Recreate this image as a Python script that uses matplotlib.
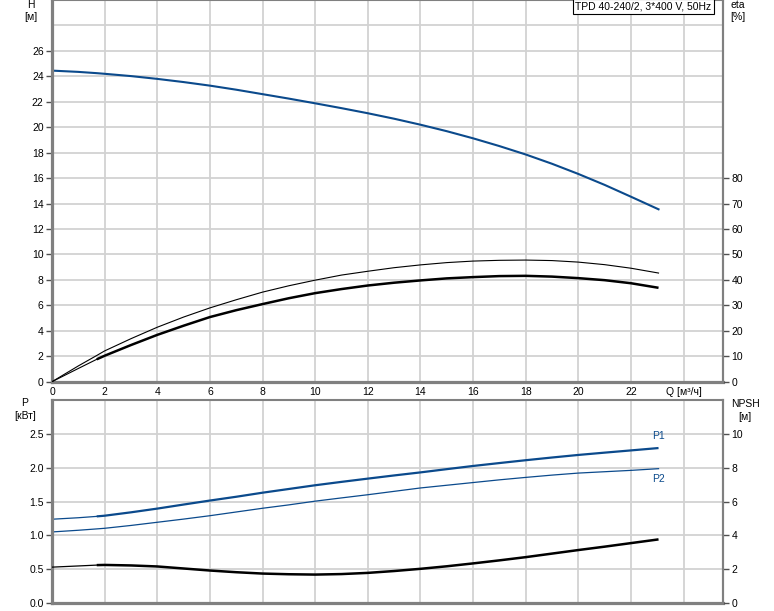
import matplotlib.pyplot as plt

plt.rcParams['font.family'] = ['Liberation Sans', 'DejaVu Sans']
plt.rcParams['font.size'] = 7.5

# flow rate, m3/h (1.7 is where the operating range starts)
q = [0, 1, 1.7, 2, 3, 4, 5, 6, 7, 8, 9, 10, 11, 12, 13, 14, 15, 16, 17, 18, 19, 20, 21, 22, 23.05]
head = [24.45, 24.35, 24.25, 24.2, 24.02, 23.8, 23.55, 23.27, 22.95, 22.6, 22.25, 21.88, 21.5, 21.1,
        20.67, 20.2, 19.69, 19.13, 18.52, 17.86, 17.13, 16.33, 15.47, 14.54, 13.55]
eta_pump = [0, 6.2, 10.3, 12.1, 16.9, 21.4, 25.4, 29, 32.2, 35.2, 37.7, 39.9, 41.9, 43.4,
            44.8, 45.9, 46.8, 47.4, 47.7, 47.8, 47.6, 47.0, 46.0, 44.6, 42.7]
eta_total = [0, 5.2, 8.8, 10.2, 14.4, 18.4, 22, 25.4, 28.1, 30.5, 32.8, 34.8, 36.4, 37.8,
             38.9, 39.8, 40.6, 41.1, 41.5, 41.6, 41.3, 40.7, 39.9, 38.7, 36.9]
p1 = [1.238, 1.26, 1.28, 1.29, 1.34, 1.395, 1.455, 1.514, 1.57, 1.63, 1.685, 1.74, 1.79, 1.838,
      1.885, 1.93, 1.978, 2.025, 2.068, 2.11, 2.15, 2.188, 2.222, 2.255, 2.29]
p2 = [1.05, 1.075, 1.095, 1.104, 1.146, 1.193, 1.24, 1.29, 1.345, 1.40, 1.45, 1.505, 1.553, 1.60,
      1.65, 1.70, 1.74, 1.78, 1.82, 1.856, 1.89, 1.92, 1.94, 1.96, 1.985]
npsh = [2.12, 2.19, 2.24, 2.25, 2.22, 2.16, 2.04, 1.92, 1.82, 1.74, 1.70, 1.68, 1.71, 1.78,
        1.89, 2.02, 2.17, 2.34, 2.52, 2.71, 2.92, 3.13, 3.33, 3.54, 3.76]

q_ticks = [0, 2, 4, 6, 8, 10, 12, 14, 16, 18, 20, 22, 24]
q_labels = ['0', '2', '4', '6', '8', '10', '12', '14', '16', '18', '20', '22', 'Q [м³/ч]']

blue = '#0b4a8c'
grid_c = '#d2d2d2'
spine_c = '#808080'
qmax = 25.5
k = 2  # index from which the curves are drawn thick

W, H = 774, 611
fig = plt.figure(figsize=(W / 100, H / 100), dpi=100)
ax1 = fig.add_axes([52 / W, (H - 381.7) / H, 671 / W, 381.7 / H])
ax2 = fig.add_axes([52 / W, (H - 603) / H, 671 / W, 203 / H])


def style(ax):
    ax.set_xlim(0, qmax)
    ax.set_xticks(q_ticks)
    ax.grid(True, color=grid_c, lw=1.3)
    ax.set_axisbelow(True)
    for s in ['left', 'bottom']:
        ax.spines[s].set_color(spine_c)
        ax.spines[s].set_linewidth(2.3)
    for s in ['right', 'top']:
        ax.spines[s].set_color(spine_c)
        ax.spines[s].set_linewidth(1.5)
    ax.tick_params(axis='y', length=4, width=1, color='#505050', pad=2)
    ax.tick_params(axis='x', length=0, pad=4)


def right_axis(ax):
    ax.tick_params(length=4, width=1, color='#505050', pad=2)
    ax.spines['right'].set_color(spine_c)
    ax.spines['right'].set_linewidth(1.5)
    for s in ['left', 'top', 'bottom']:
        ax.spines[s].set_visible(False)


# top panel: head and efficiency
style(ax1)
ax1.set_ylim(0, 30)
ax1.set_yticks(range(0, 27, 2))
ax1.axhline(28, color=grid_c, lw=1.3, zorder=0)
ax1.set_xticklabels(q_labels)
ax1.plot(q, head, color=blue, lw=1.5)

ax1r = ax1.twinx()
ax1r.set_ylim(0, 150)
ax1r.set_yticks(range(0, 81, 10))
right_axis(ax1r)
ax1r.plot(q, eta_pump, color='black', lw=0.8)
ax1r.plot(q[:k + 1], eta_total[:k + 1], color='black', lw=0.8)
ax1r.plot(q[k:], eta_total[k:], color='black', lw=1.8, solid_capstyle='butt')

ax1.text(0.983, 0.996, 'TPD 40-240/2, 3*400 V, 50Hz', transform=ax1.transAxes,
         ha='right', va='top',
         bbox=dict(boxstyle='square,pad=0.25', fc='white', ec='black', lw=0.8))
fig.text(31 / W, 1 - 5 / H, 'H', ha='center', va='center')
fig.text(31 / W, 1 - 17 / H, '[м]', ha='center', va='center')
fig.text(738 / W, 1 - 5 / H, 'eta', ha='center', va='center')
fig.text(738 / W, 1 - 17 / H, '[%]', ha='center', va='center')

# bottom panel: power and NPSH
style(ax2)
ax2.set_ylim(0, 3.0)
ax2.set_yticks([0, 0.5, 1.0, 1.5, 2.0, 2.5])
ax2.set_yticklabels(['0.0', '0.5', '1.0', '1.5', '2.0', '2.5'])
ax2.tick_params(axis='x', labelbottom=False)
ax2.plot(q[:k + 1], p1[:k + 1], color=blue, lw=0.9)
ax2.plot(q[k:], p1[k:], color=blue, lw=1.6, solid_capstyle='butt')
ax2.plot(q, p2, color=blue, lw=0.9)
ax2.annotate('P1', (q[-1], p1[-1]), xytext=(0, 5), textcoords='offset points',
             ha='center', va='bottom', color=blue)
ax2.annotate('P2', (q[-1], p2[-1]), xytext=(0, -4), textcoords='offset points',
             ha='center', va='top', color=blue)

ax2r = ax2.twinx()
ax2r.set_ylim(0, 12)
ax2r.set_yticks(range(0, 11, 2))
right_axis(ax2r)
ax2r.plot(q[:k + 1], npsh[:k + 1], color='black', lw=0.9)
ax2r.plot(q[k:], npsh[k:], color='black', lw=1.8, solid_capstyle='butt')

fig.text(25 / W, 1 - 403 / H, 'P', ha='center', va='center')
fig.text(25 / W, 1 - 416 / H, '[кВт]', ha='center', va='center')
fig.text(745 / W, 1 - 404 / H, 'NPSH', ha='center', va='center')
fig.text(745 / W, 1 - 417 / H, '[м]', ha='center', va='center')

fig.savefig('out.png', dpi=100)
